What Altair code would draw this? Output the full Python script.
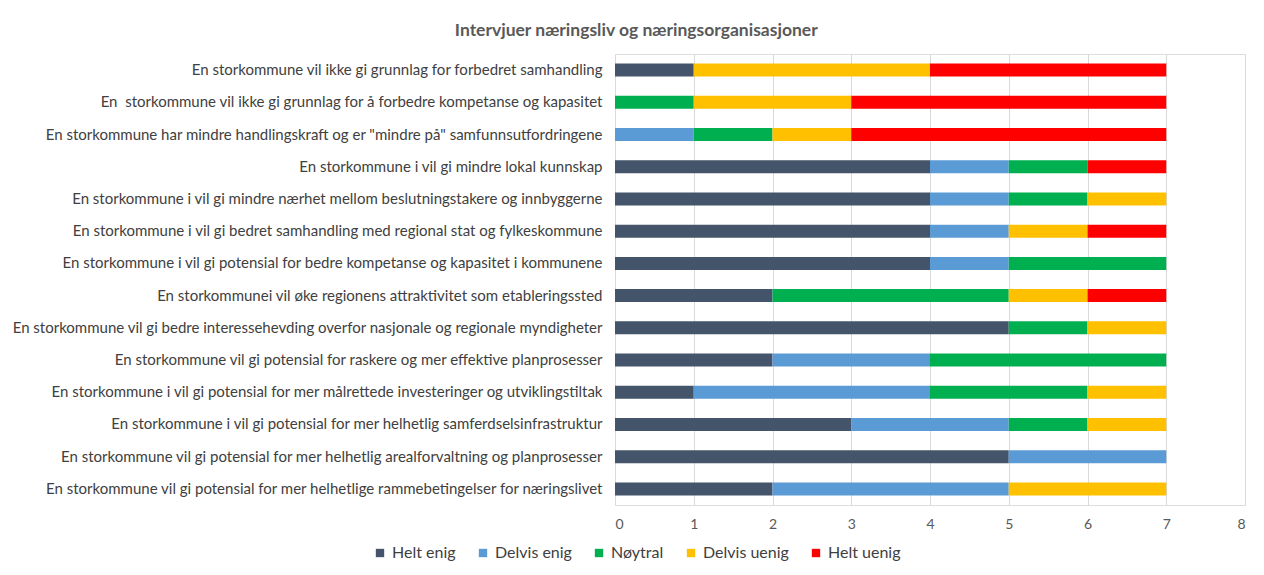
import altair as alt
import pandas as pd

categories = [
    "En storkommune vil ikke gi grunnlag for forbedret samhandling",
    "En\u00a0 storkommune vil ikke gi grunnlag for å forbedre kompetanse og kapasitet",
    "En storkommune har mindre handlingskraft og er \"mindre på\" samfunnsutfordringene",
    "En storkommune i vil gi mindre lokal kunnskap",
    "En storkommune i vil gi mindre nærhet mellom beslutningstakere og innbyggerne",
    "En storkommune i vil gi bedret samhandling med regional stat og fylkeskommune",
    "En storkommune i vil gi potensial for bedre kompetanse og kapasitet i kommunene",
    "En storkommunei vil øke regionens attraktivitet som etableringssted",
    "En storkommune vil gi bedre interessehevding overfor nasjonale og regionale myndigheter",
    "En storkommune vil gi potensial for raskere og mer effektive planprosesser",
    "En storkommune i vil gi potensial for mer målrettede investeringer og utviklingstiltak",
    "En storkommune i vil gi potensial for mer helhetlig samferdselsinfrastruktur",
    "En storkommune vil gi potensial for mer helhetlig arealforvaltning og planprosesser",
    "En storkommune vil gi potensial for mer helhetlige rammebetingelser for næringslivet",
]

series_names = ["Helt enig", "Delvis enig", "Nøytral", "Delvis uenig", "Helt uenig"]
series_colors = ["#44546A", "#5B9BD5", "#00B050", "#FFC000", "#FF0000"]

helt_enig = [1, 0, 0, 4, 4, 4, 4, 2, 5, 2, 1, 3, 5, 2]
delvis_enig = [0, 0, 1, 1, 1, 1, 1, 0, 0, 2, 3, 2, 2, 3]
noytral = [0, 1, 1, 1, 1, 0, 2, 3, 1, 3, 2, 1, 0, 0]
delvis_uenig = [3, 2, 1, 0, 1, 1, 0, 1, 1, 0, 1, 1, 0, 2]
helt_uenig = [3, 4, 4, 1, 0, 1, 0, 1, 0, 0, 0, 0, 0, 0]

x_ticks = [0, 1, 2, 3, 4, 5, 6, 7, 8]

series_values = [helt_enig, delvis_enig, noytral, delvis_uenig, helt_uenig]
rows = []
for s_idx, (name, vals) in enumerate(zip(series_names, series_values)):
    for cat, v in zip(categories, vals):
        rows.append({"påstand": cat, "svar": name, "antall": v, "rekkefolge": s_idx})
df = pd.DataFrame(rows)
df = df[df["antall"] > 0]

FONT = "Lato"

chart = (
    alt.Chart(df)
    .mark_bar(size=13)
    .encode(
        x=alt.X(
            "antall:Q",
            stack="zero",
            scale=alt.Scale(domain=[0, 8], nice=False),
            axis=alt.Axis(
                values=x_ticks,
                title=None,
                grid=True,
                gridColor="#D9D9D9",
                gridWidth=1,
                domain=False,
                ticks=False,
                labelFont=FONT,
                labelFontSize=14,
                labelColor="#595959",
                labelPadding=12,
            ),
        ),
        y=alt.Y(
            "påstand:N",
            sort=categories,
            axis=alt.Axis(
                title=None,
                labelLimit=0,
                ticks=False,
                domain=False,
                labelFont=FONT,
                labelFontSize=15,
                labelColor="#404040",
                labelPadding=13,
            ),
        ),
        color=alt.Color(
            "svar:N",
            scale=alt.Scale(domain=series_names, range=series_colors),
            legend=alt.Legend(
                title=None,
                orient="none",
                direction="horizontal",
                legendX=-243,
                legendY=491,
                symbolType="square",
                symbolSize=70,
                symbolStrokeWidth=0,
                labelFont=FONT,
                labelFontSize=16,
                labelColor="#404040",
                columnPadding=19,
                labelOffset=4,
            ),
        ),
        order=alt.Order("rekkefolge:Q"),
    )
    .properties(
        width=630,
        height=451,
        autosize=alt.AutoSizeParams(type="none"),
        padding={"left": 607, "top": 46, "right": 11, "bottom": 62},
        title=alt.TitleParams(
            "Intervjuer næringsliv og næringsorganisasjoner",
            anchor="middle",
            frame="bounds",
            font=FONT,
            fontSize=17.5,
            fontWeight="bold",
            color="#595959",
            offset=15,
            dx=8,
        ),
    )
    .configure_view(stroke=None)
    .configure(background="white")
)

chart.save("out.html", embed_options={"renderer": "svg", "actions": False})
